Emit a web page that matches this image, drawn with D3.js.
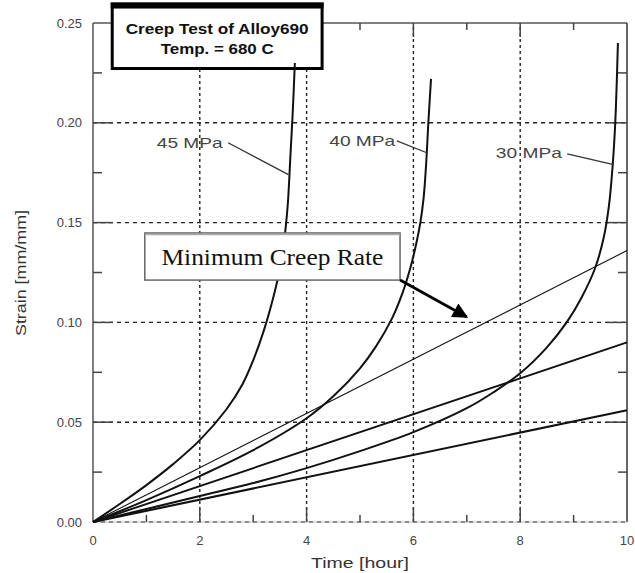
<!DOCTYPE html>
<html><head><meta charset="utf-8">
<script src="https://cdn.jsdelivr.net/npm/d3@7"></script>
<style>body{margin:0;background:#fff}</style>
</head><body>
<svg id="c" width="635" height="573"></svg>
<script>
// ---- data ----
const xTicks = [0, 2, 4, 6, 8, 10];
const xTickLabels = ["0", "2", "4", "6", "8", "10"];
const xMinor = [1, 3, 5, 7, 9];
const yTicks = [0, 0.05, 0.10, 0.15, 0.20, 0.25];
const yTickLabels = ["0.00", "0.05", "0.10", "0.15", "0.20", "0.25"];
const yMinor = [0.025, 0.075, 0.125, 0.175, 0.225];

const curve45 = [[0,0],[0.5,0.009],[1,0.0185],[1.5,0.029],[2,0.041],[2.5,0.0565],[2.8,0.069],[3.0,0.081],[3.2,0.096],[3.4,0.115],[3.5,0.127],[3.56,0.137],[3.61,0.148],[3.65,0.160],[3.70,0.185],[3.74,0.205],[3.78,0.23]];
const curve40 = [[0,0],[1,0.011],[2,0.023],[3,0.036],[4,0.052],[4.5,0.063],[5,0.077],[5.3,0.088],[5.6,0.102],[5.8,0.115],[5.95,0.128],[6.05,0.139],[6.13,0.15],[6.19,0.162],[6.24,0.18],[6.28,0.20],[6.33,0.222]];
const curve30 = [[0,0],[1,0.0065],[2,0.013],[3,0.0195],[4,0.027],[5,0.0355],[6,0.045],[7,0.057],[7.5,0.065],[8,0.0745],[8.5,0.0875],[8.87,0.10],[9.15,0.1125],[9.4,0.127],[9.56,0.142],[9.66,0.158],[9.73,0.178],[9.78,0.20],[9.83,0.24]];
const rateLines = [
  {end: 0.136, width: 1.1},
  {end: 0.090, width: 1.9},
  {end: 0.056, width: 2.1}
];
const stressLabels = [
  {text: "45 MPa", tx: 2.43, ty: 0.1874, from: [2.53, 0.190], to: [3.66, 0.174]},
  {text: "40 MPa", tx: 5.66, ty: 0.1884, from: [5.69, 0.1909], to: [6.25, 0.185]},
  {text: "30 MPa", tx: 8.78, ty: 0.1824, from: [8.88, 0.1844], to: [9.75, 0.179]}
];
const titleLines = ["Creep Test of Alloy690", "Temp. = 680 C"];
const noteText = "Minimum Creep Rate";

// ---- scales ----
const x = d3.scaleLinear().domain([0, 10]).range([93, 627]);
const y = d3.scaleLinear().domain([0, 0.25]).range([522, 23]);
const svg = d3.select("#c");
const sans = "'Liberation Sans', Arial, sans-serif";

// grid
const grid = svg.append("g");
grid.selectAll(".vg").data(xTicks.filter(d => d > 0 && d < 10)).join("line")
  .attr("x1", d => x(d)).attr("x2", d => x(d)).attr("y1", y(0)).attr("y2", y(0.25))
  .attr("stroke", "#222").attr("stroke-width", 1.4).attr("stroke-dasharray", "3,3");
grid.selectAll(".hg").data(yTicks.filter(d => d < 0.25)).join("line")
  .attr("x1", x(0)).attr("x2", x(10)).attr("y1", d => y(d)).attr("y2", d => y(d))
  .attr("stroke", "#222").attr("stroke-width", 1.4).attr("stroke-dasharray", "4,4");

// frame
const fr = svg.append("g").attr("stroke", "#555").attr("stroke-width", 1.5).attr("fill", "none");
fr.append("line").attr("x1", x(0)).attr("x2", x(0)).attr("y1", y(0)).attr("y2", y(0.25));
fr.append("line").attr("x1", x(0)).attr("x2", x(10)).attr("y1", y(0.25)).attr("y2", y(0.25));
fr.append("line").attr("x1", x(10)).attr("x2", x(10)).attr("y1", y(0)).attr("y2", y(0.25)).attr("stroke", "#333");
fr.append("line").attr("x1", x(0)).attr("x2", x(10)).attr("y1", y(0)).attr("y2", y(0)).attr("stroke", "#bbb").attr("stroke-width", 1);

// ticks (all four sides, pointing inward)
const tk = svg.append("g").attr("stroke", "#444").attr("stroke-width", 1.5);
function xt(vals, len) {
  tk.selectAll(null).data(vals).join("line")
    .attr("x1", d => x(d)).attr("x2", d => x(d)).attr("y1", y(0)).attr("y2", y(0) - len);
  tk.selectAll(null).data(vals).join("line")
    .attr("x1", d => x(d)).attr("x2", d => x(d)).attr("y1", y(0.25)).attr("y2", y(0.25) + len);
}
function yt(vals, len) {
  tk.selectAll(null).data(vals).join("line")
    .attr("x1", x(0)).attr("x2", x(0) + len).attr("y1", d => y(d)).attr("y2", d => y(d));
  tk.selectAll(null).data(vals).join("line")
    .attr("x1", x(10)).attr("x2", x(10) - len).attr("y1", d => y(d)).attr("y2", d => y(d));
}
xt(xTicks.filter(d => d > 0 && d < 10), 14);
xt(xMinor, 7);
yt(yTicks.filter(d => d > 0 && d < 0.25), 20);
yt(yMinor, 9);

// tick labels
svg.append("g").selectAll("text").data(xTicks).join("text")
  .attr("x", d => x(d)).attr("y", 545).attr("text-anchor", "middle")
  .attr("font-family", sans).attr("font-size", 13).attr("fill", "#444")
  .text((d, i) => xTickLabels[i]);
svg.append("g").selectAll("text").data(yTicks).join("text")
  .attr("x", 82).attr("y", d => y(d) + 4.5).attr("text-anchor", "end")
  .attr("font-family", sans).attr("font-size", 13).attr("fill", "#444")
  .text((d, i) => yTickLabels[i]);

// axis titles
svg.append("text").attr("x", 360).attr("y", 568).attr("text-anchor", "middle")
  .attr("font-family", sans).attr("font-size", 15).attr("fill", "#333")
  .attr("textLength", 98).attr("lengthAdjust", "spacingAndGlyphs").text("Time [hour]");
svg.append("text").attr("transform", "translate(26,273) rotate(-90)").attr("text-anchor", "middle")
  .attr("font-family", sans).attr("font-size", 15).attr("fill", "#333")
  .attr("textLength", 126).attr("lengthAdjust", "spacingAndGlyphs").text("Strain [mm/mm]");

// minimum creep rate lines
svg.append("g").selectAll("line").data(rateLines).join("line")
  .attr("x1", x(0)).attr("y1", y(0)).attr("x2", x(10)).attr("y2", d => y(d.end))
  .attr("stroke", "#111").attr("stroke-width", d => d.width);

// creep curves
const line = d3.line().x(d => x(d[0])).y(d => y(d[1])).curve(d3.curveCatmullRom.alpha(0.5));

// title box (drawn before curves so 45 MPa curve lies over it)
const bx0 = x(0.36), bx1 = x(4.29), by0 = y(0.2595), by1 = y(0.2272);
svg.append("rect").attr("x", bx0).attr("y", by0).attr("width", bx1 - bx0).attr("height", by1 - by0)
  .attr("fill", "#fff").attr("stroke", "#000").attr("stroke-width", 3);
svg.append("rect").attr("x", bx0 - 1.5).attr("y", by0 - 1.5).attr("width", bx1 - bx0 + 3).attr("height", 6).attr("fill", "#000");
svg.append("text").attr("x", (bx0 + bx1) / 2).attr("y", 34).attr("text-anchor", "middle")
  .attr("font-family", sans).attr("font-weight", "bold").attr("font-size", 15).attr("fill", "#111")
  .attr("textLength", 183).attr("lengthAdjust", "spacingAndGlyphs").text(titleLines[0]);
svg.append("text").attr("x", (bx0 + bx1) / 2).attr("y", 54).attr("text-anchor", "middle")
  .attr("font-family", sans).attr("font-weight", "bold").attr("font-size", 15).attr("fill", "#111")
  .attr("textLength", 113).attr("lengthAdjust", "spacingAndGlyphs").text(titleLines[1]);

[curve45, curve40, curve30].forEach(c => {
  svg.append("path").datum(c).attr("d", line).attr("fill", "none")
    .attr("stroke", "#111").attr("stroke-width", 2);
});

// stress labels with leaders
const lab = svg.append("g");
stressLabels.forEach(s => {
  lab.append("text").attr("x", x(s.tx)).attr("y", y(s.ty)).attr("text-anchor", "end")
    .attr("font-family", sans).attr("font-size", 15).attr("fill", "#444")
    .attr("textLength", 66).attr("lengthAdjust", "spacingAndGlyphs").text(s.text);
  lab.append("line").attr("x1", x(s.from[0])).attr("y1", y(s.from[1]))
    .attr("x2", x(s.to[0])).attr("y2", y(s.to[1])).attr("stroke", "#333").attr("stroke-width", 1.3);
});

// minimum creep rate note box + arrow
const nx0 = x(0.97), nx1 = x(5.75), ny0 = y(0.1448), ny1 = y(0.1212);
svg.append("rect").attr("x", nx0).attr("y", ny0).attr("width", nx1 - nx0).attr("height", ny1 - ny0)
  .attr("fill", "#fff").attr("stroke", "#666").attr("stroke-width", 1.5);
svg.append("line").attr("x1", nx0).attr("x2", nx1).attr("y1", ny0 + 1.5).attr("y2", ny0 + 1.5)
  .attr("stroke", "#aaa").attr("stroke-width", 1.5);
svg.append("text").attr("x", (nx0 + nx1) / 2).attr("y", 265).attr("text-anchor", "middle")
  .attr("font-family", "'Liberation Serif', 'Times New Roman', serif").attr("font-size", 24).attr("fill", "#111")
  .attr("textLength", 222).attr("lengthAdjust", "spacingAndGlyphs").text(noteText);

svg.append("defs").append("marker").attr("id", "ah").attr("viewBox", "0 0 10 10")
  .attr("refX", 9).attr("refY", 5).attr("markerWidth", 7).attr("markerHeight", 5.5)
  .attr("markerUnits", "strokeWidth").attr("orient", "auto")
  .append("path").attr("d", "M0,0 L10,5 L0,10 z").attr("fill", "#000");
svg.append("line").attr("x1", x(5.75)).attr("y1", y(0.1212)).attr("x2", x(7.0)).attr("y2", y(0.1027))
  .attr("stroke", "#000").attr("stroke-width", 2.8).attr("marker-end", "url(#ah)");
</script>
</body></html>
